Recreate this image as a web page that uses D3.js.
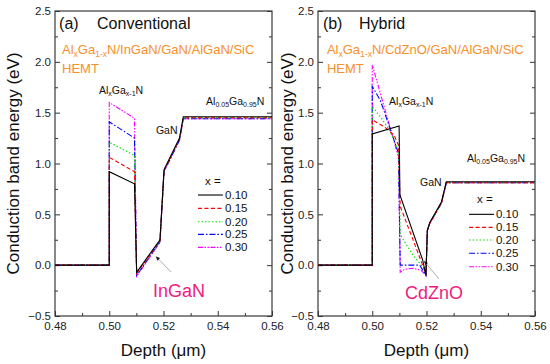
<!DOCTYPE html>
<html>
<head>
<meta charset="utf-8">
<script src="https://cdn.jsdelivr.net/npm/d3@7"></script>
<style>
  body { margin: 0; background: #fff; }
  svg { display: block; font-family: "Liberation Sans", Arial, sans-serif; }
</style>
</head>
<body>
<svg width="550" height="364"></svg>
<script>
// x = Al fraction, one curve per value
let xLabels = ["0.10", "0.15", "0.20", "0.25", "0.30"];
let xTicks = [0.48, 0.50, 0.52, 0.54, 0.56];
let yTicks = [-0.5, 0.0, 0.5, 1.0, 1.5, 2.0, 2.5];

// (a) conventional : [depth um, energy eV]
let conv010 = [[0.48,0],[0.50,0],[0.50,0.92],[0.5093,0.80],[0.5101,-0.07],[0.5187,0.25],[0.5202,0.94],[0.5259,1.25],[0.5273,1.46],[0.56,1.46]];
let conv015 = [[0.48,0],[0.50,0],[0.50,1.06],[0.5093,0.92],[0.5101,-0.08],[0.5187,0.24],[0.5202,0.93],[0.5259,1.24],[0.5273,1.45],[0.56,1.45]];
let conv020 = [[0.48,0],[0.50,0],[0.50,1.21],[0.5093,1.08],[0.5101,-0.09],[0.5187,0.235],[0.5202,0.93],[0.5259,1.24],[0.5273,1.45],[0.56,1.45]];
let conv025 = [[0.48,0],[0.50,0],[0.50,1.41],[0.5093,1.25],[0.5101,-0.10],[0.5187,0.23],[0.5202,0.92],[0.5259,1.23],[0.5273,1.44],[0.56,1.44]];
let conv030 = [[0.48,0],[0.50,0],[0.50,1.60],[0.5093,1.445],[0.5101,-0.11],[0.5187,0.225],[0.5202,0.92],[0.5259,1.23],[0.5273,1.44],[0.56,1.44]];

// (b) hybrid
let hyb010 = [[0.48,0],[0.50,0],[0.50,1.29],[0.5099,1.37],[0.5102,0.69],[0.5186,0.05],[0.5198,-0.10],[0.5203,0.34],[0.5212,0.42],[0.5255,0.62],[0.5273,0.82],[0.56,0.82]];
let hyb015 = [[0.48,0],[0.50,0],[0.50,1.43],[0.5045,1.36],[0.508,1.28],[0.5097,1.18],[0.5103,0.58],[0.5193,-0.05],[0.5198,-0.10],[0.5203,0.34],[0.5212,0.41],[0.5255,0.61],[0.5273,0.81],[0.56,0.81]];
let hyb020 = [[0.48,0],[0.50,0],[0.50,1.56],[0.503,1.46],[0.5063,1.33],[0.5097,1.13],[0.5103,0.30],[0.515,0.10],[0.519,-0.03],[0.5198,-0.10],[0.5203,0.34],[0.5212,0.41],[0.5255,0.61],[0.5273,0.81],[0.56,0.81]];
let hyb025 = [[0.48,0],[0.50,0],[0.50,1.76],[0.503,1.62],[0.5097,1.10],[0.5103,0.0],[0.5175,0.0],[0.5198,-0.10],[0.5203,0.34],[0.5212,0.41],[0.5255,0.61],[0.5273,0.81],[0.56,0.81]];
let hyb030 = [[0.48,0],[0.50,0],[0.50,1.97],[0.5097,1.06],[0.5103,-0.07],[0.512,-0.04],[0.515,-0.03],[0.518,-0.05],[0.5198,-0.10],[0.5203,0.34],[0.5212,0.41],[0.5255,0.61],[0.5273,0.81],[0.56,0.81]];

let colors = ["#000000", "#ff0000", "#00e000", "#0000ff", "#ff00ff"];
let dashes = [null, "4,2.5", "1.5,2", "6,2,1.5,2", "5,1.5,1.5,1.5,1.5,1.5"];

let svg = d3.select("svg");
let font = "Liberation Sans, Arial, sans-serif";

function drawPanel(p) {
  let x = d3.scaleLinear().domain([0.48, 0.56]).range([p.left, p.left + 217]);
  let y = d3.scaleLinear().domain([-0.5, 2.5]).range([316, 11]);
  let g = svg.append("g");

  // minor ticks
  let minorX = d3.range(0.49, 0.56, 0.02);
  let minorY = d3.range(-0.25, 2.5, 0.5);
  g.append("g").attr("transform", "translate(0,316)")
    .call(d3.axisBottom(x).tickValues(minorX).tickSize(-3).tickFormat(""));
  g.append("g").attr("transform", `translate(${p.left},0)`)
    .call(d3.axisLeft(y).tickValues(minorY).tickSize(-3).tickFormat(""));
  g.append("g").attr("transform", `translate(${p.left + 217},0)`)
    .call(d3.axisRight(y).tickValues(minorY).tickSize(-3).tickFormat(""));

  // major ticks
  g.append("g").attr("class", "xa").attr("transform", "translate(0,316)")
    .call(d3.axisBottom(x).tickValues(xTicks).tickSize(-5).tickPadding(3).tickFormat(d3.format(".2f")));
  g.append("g").attr("class", "ya").attr("transform", `translate(${p.left},0)`)
    .call(d3.axisLeft(y).tickValues(yTicks).tickSize(-5).tickPadding(4).tickFormat(d3.format(".1f")));
  g.append("g").attr("transform", `translate(${p.left + 217},0)`)
    .call(d3.axisRight(y).tickValues(yTicks).tickSize(-5).tickFormat(""));

  g.selectAll(".domain").remove();
  g.selectAll(".tick line").attr("stroke", "#333");
  g.selectAll(".tick text").attr("font-size", 11.5).attr("font-family", font).attr("fill", "#222");
  g.selectAll(".xa .tick text").attr("dy", "0.95em");

  g.append("rect")
    .attr("x", p.left).attr("y", 11).attr("width", 217).attr("height", 305)
    .attr("fill", "none").attr("stroke", "#3a3a3a").attr("stroke-width", 1.2);

  // curves
  let line = d3.line().x(d => x(d[0])).y(d => y(d[1]));
  p.series.slice().reverse().forEach((s, j) => {
    let i = p.series.length - 1 - j;
    g.append("path").datum(s)
      .attr("d", line).attr("fill", "none")
      .attr("stroke", colors[i]).attr("stroke-width", 1.1)
      .attr("stroke-dasharray", dashes[i]);
  });

  // axis titles
  g.append("text")
    .attr("x", (x.range()[0] + x.range()[1]) / 2).attr("y", 356)
    .attr("text-anchor", "middle").attr("font-size", 17).attr("fill", "#111")
    .text("Depth (\u03bcm)");
  g.append("text")
    .attr("transform", `translate(${p.titleX},${(y.range()[0] + y.range()[1]) / 2}) rotate(-90)`)
    .attr("text-anchor", "middle").attr("font-size", 17).attr("fill", "#111")
    .text("Conduction band energy (eV)");

  // panel heading
  g.append("text").attr("x", x(p.head[0])).attr("y", y(2.323))
    .attr("font-size", 16).attr("fill", "#111").text(p.tag);
  g.append("text").attr("x", x(p.head[1])).attr("y", y(2.323))
    .attr("font-size", 16).attr("fill", "#111").text(p.name);

  let o1 = g.append("text").attr("x", x(p.head[2])).attr("y", y(2.077))
    .attr("font-size", 13).attr("fill", "#f7902a");
  o1.append("tspan").text("Al");
  o1.append("tspan").attr("font-size", 8.5).attr("dy", 3).text("x");
  o1.append("tspan").attr("dy", -3).text("Ga");
  o1.append("tspan").attr("font-size", 8.5).attr("dy", 3).text("1-x");
  o1.append("tspan").attr("dy", -3).text("N/" + p.layer + "/GaN/AlGaN/SiC");
  g.append("text").attr("x", x(p.head[2])).attr("y", y(1.89))
    .attr("font-size", 13).attr("fill", "#f7902a").text("HEMT");

  // layer labels
  let a1 = g.append("text").attr("x", x(p.alg[0])).attr("y", y(p.alg[1]))
    .attr("font-size", 10.5).attr("fill", "#111");
  a1.append("tspan").text("Al");
  a1.append("tspan").attr("font-size", 7).attr("dy", 2.5).text("x");
  a1.append("tspan").attr("dy", -2.5).text("Ga");
  a1.append("tspan").attr("font-size", 7).attr("dy", 2.5).text("x-1");
  a1.append("tspan").attr("dy", -2.5).text("N");

  let a2 = g.append("text").attr("x", x(p.alg2[0])).attr("y", y(p.alg2[1]))
    .attr("font-size", 10.5).attr("fill", "#111");
  a2.append("tspan").text("Al");
  a2.append("tspan").attr("font-size", 7).attr("dy", 2.5).text("0.05");
  a2.append("tspan").attr("dy", -2.5).text("Ga");
  a2.append("tspan").attr("font-size", 7).attr("dy", 2.5).text("0.95");
  a2.append("tspan").attr("dy", -2.5).text("N");

  g.append("text").attr("x", x(p.gan[0])).attr("y", y(p.gan[1]))
    .attr("font-size", 10.5).attr("fill", "#111").text("GaN");

  g.append("text").attr("x", x(p.big[0])).attr("y", y(p.big[1]))
    .attr("font-size", 18).attr("fill", "#ee1c80").text(p.layer);

  // arrow
  let ax1 = x(p.arrow[0]), ay1 = y(p.arrow[1]), ax2 = x(p.arrow[2]), ay2 = y(p.arrow[3]);
  g.append("line").attr("x1", ax1).attr("y1", ay1).attr("x2", ax2).attr("y2", ay2)
    .attr("stroke", "#999").attr("stroke-width", 0.8);
  let ang = Math.atan2(ay2 - ay1, ax2 - ax1);
  let hl = 4, hw = 1.8;
  let pts = [[ax2, ay2],
    [ax2 - hl * Math.cos(ang) + hw * Math.sin(ang), ay2 - hl * Math.sin(ang) - hw * Math.cos(ang)],
    [ax2 - hl * Math.cos(ang) - hw * Math.sin(ang), ay2 - hl * Math.sin(ang) + hw * Math.cos(ang)]];
  g.append("polygon").attr("points", pts.map(q => q.join(",")).join(" ")).attr("fill", "#111");

  // legend
  g.append("text").attr("x", x(p.leg.head[0])).attr("y", y(p.leg.head[1]))
    .attr("font-size", 11.5).attr("fill", "#111").text("x =");
  xLabels.forEach((lab, i) => {
    let ly = y(p.leg.rows[i]);
    g.append("line").attr("x1", x(p.leg.x[0])).attr("x2", x(p.leg.x[1]))
      .attr("y1", ly).attr("y2", ly)
      .attr("stroke", colors[i]).attr("stroke-width", 1.1).attr("stroke-dasharray", dashes[i]);
    g.append("text").attr("x", x(p.leg.x[2])).attr("y", ly + 4)
      .attr("font-size", 11.5).attr("fill", "#111").text(lab);
  });
}

drawPanel({
  left: 55, titleX: 19, tag: "(a)", name: "Conventional", layer: "InGaN",
  series: [conv010, conv015, conv020, conv025, conv030],
  head: [0.4815, 0.4955, 0.4826],
  alg: [0.4962, 1.684], alg2: [0.5357, 1.579], gan: [0.5172, 1.29],
  big: [0.5161, -0.31],
  arrow: [0.5228, -0.067, 0.5172, 0.085],
  leg: { head: [0.5353, 0.788], rows: [0.690, 0.559, 0.427, 0.303, 0.175], x: [0.5327, 0.5419, 0.5427] }
});

drawPanel({
  left: 318, titleX: 293, tag: "(b)", name: "Hybrid", layer: "CdZnO",
  series: [hyb010, hyb015, hyb020, hyb025, hyb030],
  head: [0.4818, 0.4951, 0.4833],
  alg: [0.5062, 1.579], alg2: [0.5349, 1.018], gan: [0.5176, 0.782],
  big: [0.5121, -0.333],
  arrow: [0.5246, -0.136, 0.5191, 0.041],
  leg: { head: [0.5386, 0.608], rows: [0.500, 0.372, 0.248, 0.117, -0.015], x: [0.5357, 0.5449, 0.5456] }
});
</script>
</body>
</html>
